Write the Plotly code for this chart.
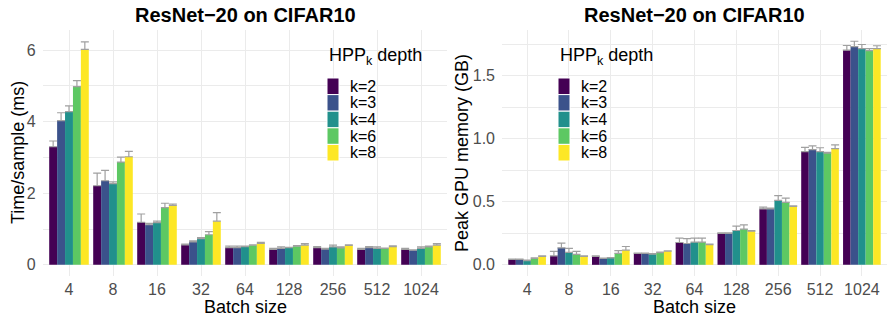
import plotly.graph_objects as go

batch_sizes = ["4", "8", "16", "32", "64", "128", "256", "512", "1024"]
k_labels = ["k=2", "k=3", "k=4", "k=6", "k=8"]
colors = ["#440154", "#3B528B", "#21908C", "#5DC863", "#FDE725"]

# Time/sample (ms): means and upper error
time_mean = {
    "k=2": [3.30, 2.21, 1.19, 0.56, 0.48, 0.43, 0.48, 0.43, 0.43],
    "k=3": [4.03, 2.35, 1.12, 0.64, 0.48, 0.46, 0.44, 0.48, 0.41],
    "k=4": [4.28, 2.27, 1.18, 0.73, 0.51, 0.48, 0.50, 0.46, 0.46],
    "k=6": [4.98, 2.87, 1.60, 0.84, 0.55, 0.52, 0.47, 0.46, 0.50],
    "k=8": [6.02, 3.02, 1.66, 1.22, 0.60, 0.55, 0.54, 0.51, 0.55],
}
time_err = {
    "k=2": [0.16, 0.35, 0.23, 0.02, 0.04, 0.03, 0.03, 0.03, 0.03],
    "k=3": [0.22, 0.29, 0.04, 0.03, 0.04, 0.04, 0.02, 0.03, 0.01],
    "k=4": [0.16, 0.05, 0.04, 0.03, 0.01, 0.01, 0.05, 0.04, 0.04],
    "k=6": [0.17, 0.14, 0.12, 0.09, 0.01, 0.02, 0.03, 0.01, 0.02],
    "k=8": [0.21, 0.15, 0.04, 0.24, 0.03, 0.04, 0.02, 0.02, 0.04],
}
# Peak GPU memory (GB)
mem_mean = {
    "k=2": [0.042, 0.071, 0.066, 0.090, 0.177, 0.249, 0.444, 0.897, 1.701],
    "k=3": [0.042, 0.135, 0.050, 0.090, 0.169, 0.249, 0.444, 0.913, 1.730],
    "k=4": [0.034, 0.098, 0.055, 0.085, 0.180, 0.272, 0.510, 0.897, 1.714],
    "k=6": [0.050, 0.082, 0.090, 0.097, 0.180, 0.283, 0.495, 0.886, 1.698],
    "k=8": [0.066, 0.066, 0.116, 0.108, 0.159, 0.267, 0.463, 0.921, 1.714],
}
mem_err = {
    "k=2": [0.003, 0.035, 0.005, 0.003, 0.035, 0.005, 0.014, 0.034, 0.037],
    "k=3": [0.003, 0.037, 0.003, 0.003, 0.038, 0.004, 0.006, 0.029, 0.042],
    "k=4": [0.003, 0.032, 0.003, 0.003, 0.032, 0.035, 0.038, 0.031, 0.032],
    "k=6": [0.005, 0.024, 0.023, 0.003, 0.032, 0.034, 0.034, 0.005, 0.016],
    "k=8": [0.005, 0.005, 0.029, 0.003, 0.005, 0.004, 0.005, 0.029, 0.022],
}

W, H = 887, 320
FONT = "Liberation Sans, Arial, sans-serif"
fig = go.Figure()

for k, c in zip(k_labels, colors):
    fig.add_trace(go.Bar(
        x=batch_sizes, y=time_mean[k], name=k, marker=dict(color=c, line=dict(width=0)),
        error_y=dict(type="data", symmetric=False, array=time_err[k],
                     arrayminus=[0] * len(batch_sizes), color="#A0A0A0", thickness=1.2, width=4),
        xaxis="x", yaxis="y", showlegend=False, offsetgroup=k))
    fig.add_trace(go.Bar(
        x=batch_sizes, y=mem_mean[k], name=k, marker=dict(color=c, line=dict(width=0)),
        error_y=dict(type="data", symmetric=False, array=mem_err[k],
                     arrayminus=[0] * len(batch_sizes), color="#A0A0A0", thickness=1.2, width=4),
        xaxis="x2", yaxis="y2", showlegend=False, offsetgroup=k))

ydom = [1 - 276 / H, 1 - 30 / H]
grid = "#EBEBEB"
tickfont = dict(family=FONT, size=16, color="#4D4D4D")

common_x = dict(type="category", showgrid=True, gridcolor=grid, gridwidth=1, zeroline=False,
                showline=False, ticks="", tickfont=tickfont, ticklabelstandoff=2,
                categoryorder="array", categoryarray=batch_sizes)
common_y = dict(showgrid=True, gridcolor=grid, gridwidth=1, zeroline=False, showline=False,
                ticks="", tickfont=tickfont, ticklabelstandoff=6, domain=ydom)

fig.update_layout(
    width=W, height=H, margin=dict(l=0, r=0, t=0, b=0),
    paper_bgcolor="white", plot_bgcolor="white",
    barmode="group", bargap=0.1, bargroupgap=0,
    font=dict(family=FONT, color="black"),
    xaxis=dict(common_x, domain=[42.6 / W, 447.4 / W], range=[-0.6, 8.6], anchor="y"),
    xaxis2=dict(common_x, domain=[502 / W, 1.0], range=[-0.6, 8.6], anchor="y2"),
    yaxis=dict(common_y, range=[-0.3125, 6.5625], tickvals=[0, 2, 4, 6],
               minor=dict(tickvals=[1, 3, 5], showgrid=True, gridcolor=grid, gridwidth=0.6),
               anchor="x"),
    yaxis2=dict(common_y, range=[-0.0886, 1.861], tickvals=[0, 0.5, 1.0, 1.5],
                ticktext=["0.0", "0.5", "1.0", "1.5"],
                minor=dict(tickvals=[0.25, 0.75, 1.25, 1.75], showgrid=True, gridcolor=grid, gridwidth=0.6),
                anchor="x2"),
)

ann = []
def px(x, y):
    return x / W, 1 - y / H

# Titles
for cx in [(42.6 + 447.4) / 2, (502 + 887) / 2]:
    x, y = px(cx, 15)
    ann.append(dict(x=x, y=y, xref="paper", yref="paper", text="<b>ResNet\u221220 on CIFAR10</b>",
                    showarrow=False, font=dict(size=20, family=FONT, color="black"),
                    xanchor="center", yanchor="middle"))
# X axis titles
for cx in [(42.6 + 447.4) / 2, (502 + 887) / 2]:
    x, y = px(cx, 307)
    ann.append(dict(x=x, y=y, xref="paper", yref="paper", text="Batch size", showarrow=False,
                    font=dict(size=18, family=FONT, color="black"), xanchor="center", yanchor="middle"))
# Y axis titles
for cx, t in [(18, "Time/sample (ms)"), (462, "Peak GPU memory (GB)")]:
    x, y = px(cx, 153)
    ann.append(dict(x=x, y=y, xref="paper", yref="paper", text=t, showarrow=False, textangle=-90,
                    font=dict(size=18, family=FONT, color="black"), xanchor="center", yanchor="middle"))

# Legends (drawn per panel)
shapes = []
for lx in [327, 558]:
    x, y = px(lx, 56)
    ann.append(dict(x=x, y=y, xref="paper", yref="paper", text="HPP<sub>k</sub> depth", showarrow=False,
                    font=dict(size=18, family=FONT, color="black"), xanchor="left", yanchor="middle"))
    for i, (k, c) in enumerate(zip(k_labels, colors)):
        top = 78 + i * 16.6
        x0, y0 = px(lx, top + 16.6)
        x1, y1 = px(lx + 12, top)
        shapes.append(dict(type="rect", xref="paper", yref="paper", x0=x0, y0=y0, x1=x1, y1=y1,
                           fillcolor=c, line=dict(width=1, color="white")))
        tx, ty = px(lx + 21, top + 8.3)
        ann.append(dict(x=tx, y=ty, xref="paper", yref="paper", text=k, showarrow=False,
                        font=dict(size=16, family=FONT, color="black"), xanchor="left", yanchor="middle"))

fig.update_layout(annotations=ann, shapes=shapes)
fig.write_html("out.html")
